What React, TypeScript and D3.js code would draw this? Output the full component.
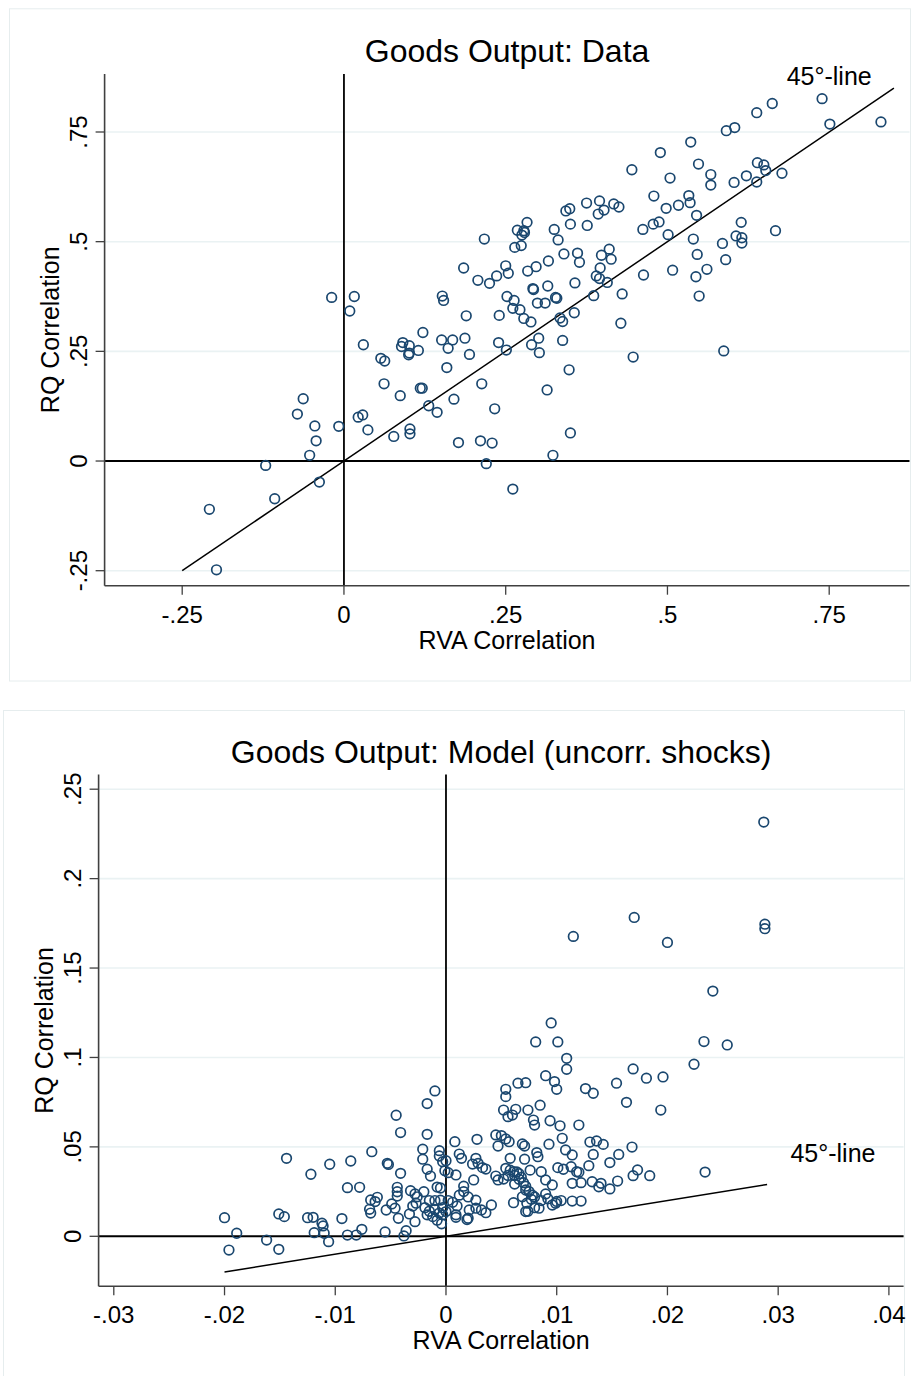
import React from 'react';
import * as d3 from 'd3';

// Stata s2color look
const NAVY = '#1a476f';
const GRID = '#eaf2f3';
const AXIS = '#404040';
const FONT = '"Liberation Sans", Arial, Helvetica, sans-serif';

// ---- panel 1: data ----
const dataTicksX = [-0.25, 0, 0.25, 0.5, 0.75];
const dataTickLabelsX = ['-.25', '0', '.25', '.5', '.75'];
const dataTicksY = [-0.25, 0, 0.25, 0.5, 0.75];
const dataTickLabelsY = ['-.25', '0', '.25', '.5', '.75'];
const dataLine = [-0.25, 0.85];
const dataPoints: [number, number][] = [
  [-0.208, -0.110], [-0.197, -0.248], [-0.121, -0.010], [-0.107, -0.086], [-0.038, -0.048],
  [-0.072, 0.107], [-0.063, 0.142], [-0.045, 0.080], [-0.043, 0.046], [-0.053, 0.013],
  [-0.008, 0.079], [-0.019, 0.373], [0.016, 0.375], [0.009, 0.342], [0.022, 0.100],
  [0.029, 0.105], [0.037, 0.071], [0.030, 0.265], [0.057, 0.234], [0.063, 0.228],
  [0.062, 0.176], [0.077, 0.056], [0.087, 0.149], [0.091, 0.270], [0.089, 0.261],
  [0.101, 0.263], [0.101, 0.246], [0.100, 0.242], [0.102, 0.073], [0.102, 0.062],
  [0.115, 0.252], [0.122, 0.293], [0.118, 0.166], [0.121, 0.166], [0.131, 0.126],
  [0.144, 0.111], [0.152, 0.376], [0.154, 0.366], [0.151, 0.276], [0.161, 0.257],
  [0.159, 0.213], [0.168, 0.276], [0.170, 0.141], [0.177, 0.042], [0.185, 0.440],
  [0.189, 0.331], [0.187, 0.280], [0.194, 0.243], [0.207, 0.412], [0.213, 0.176],
  [0.211, 0.046], [0.217, 0.506], [0.220, -0.006], [0.225, 0.405], [0.229, 0.041],
  [0.233, 0.119], [0.236, 0.422], [0.239, 0.270], [0.240, 0.332], [0.250, 0.445],
  [0.254, 0.428], [0.252, 0.375], [0.251, 0.253], [0.261, -0.064], [0.264, 0.487],
  [0.263, 0.366], [0.261, 0.348], [0.268, 0.526], [0.274, 0.491], [0.272, 0.345],
  [0.278, 0.325], [0.278, 0.525], [0.275, 0.515], [0.279, 0.521], [0.283, 0.544],
  [0.284, 0.433], [0.289, 0.317], [0.292, 0.393], [0.293, 0.391], [0.290, 0.265],
  [0.297, 0.443], [0.301, 0.280], [0.299, 0.360], [0.302, 0.247], [0.311, 0.360],
  [0.315, 0.399], [0.316, 0.456], [0.314, 0.162], [0.323, 0.013], [0.325, 0.528],
  [0.327, 0.373], [0.329, 0.371], [0.331, 0.504], [0.334, 0.326], [0.338, 0.318],
  [0.338, 0.275], [0.340, 0.472], [0.343, 0.570], [0.349, 0.575], [0.350, 0.540],
  [0.348, 0.208], [0.350, 0.064], [0.357, 0.406], [0.356, 0.338], [0.361, 0.474],
  [0.364, 0.453], [0.375, 0.588], [0.376, 0.537], [0.386, 0.377], [0.390, 0.422],
  [0.395, 0.416], [0.395, 0.593], [0.393, 0.563], [0.396, 0.440], [0.398, 0.469],
  [0.402, 0.572], [0.407, 0.407], [0.410, 0.483], [0.413, 0.460], [0.417, 0.586],
  [0.425, 0.579], [0.428, 0.314], [0.430, 0.381], [0.445, 0.664], [0.447, 0.237],
  [0.462, 0.528], [0.463, 0.424], [0.478, 0.540], [0.479, 0.604], [0.487, 0.545],
  [0.489, 0.703], [0.498, 0.576], [0.501, 0.516], [0.504, 0.645], [0.508, 0.435],
  [0.517, 0.583], [0.533, 0.605], [0.535, 0.589], [0.536, 0.727], [0.540, 0.506],
  [0.545, 0.560], [0.546, 0.471], [0.544, 0.420], [0.548, 0.677], [0.549, 0.376],
  [0.561, 0.437], [0.567, 0.653], [0.567, 0.629], [0.585, 0.496], [0.587, 0.251],
  [0.591, 0.753], [0.590, 0.459], [0.604, 0.760], [0.603, 0.635], [0.606, 0.513],
  [0.614, 0.544], [0.615, 0.509], [0.615, 0.497], [0.622, 0.650], [0.638, 0.794],
  [0.638, 0.636], [0.639, 0.680], [0.649, 0.675], [0.652, 0.662], [0.662, 0.815],
  [0.667, 0.525], [0.677, 0.656], [0.739, 0.826], [0.751, 0.768], [0.830, 0.773],
];

// ---- panel 2: model ----
const modelTicksX = [-0.03, -0.02, -0.01, 0, 0.01, 0.02, 0.03, 0.04];
const modelTickLabelsX = ['-.03', '-.02', '-.01', '0', '.01', '.02', '.03', '.04'];
const modelTicksY = [0, 0.05, 0.1, 0.15, 0.2, 0.25];
const modelTickLabelsY = ['0', '.05', '.1', '.15', '.2', '.25'];
const modelLine = [-0.02, 0.029];
const modelPoints: [number, number][] = [
  [-0.0200, 0.0104], [-0.0196, -0.0077], [-0.0189, 0.0017], [-0.0162, -0.0021], [-0.0151, -0.0073],
  [-0.0151, 0.0125], [-0.0146, 0.0110], [-0.0144, 0.0436], [-0.0125, 0.0104], [-0.0120, 0.0106],
  [-0.0122, 0.0347], [-0.0112, 0.0073], [-0.0111, 0.0058], [-0.0119, 0.0020], [-0.0110, 0.0017],
  [-0.0106, -0.0030], [-0.0105, 0.0403], [-0.0094, 0.0099], [-0.0089, 0.0007], [-0.0081, 0.0007],
  [-0.0089, 0.0272], [-0.0078, 0.0274], [-0.0086, 0.0421], [-0.0076, 0.0039], [-0.0068, 0.0203],
  [-0.0069, 0.0151], [-0.0062, 0.0218], [-0.0064, 0.0194], [-0.0067, 0.0473], [-0.0068, 0.0130],
  [-0.0055, 0.0024], [-0.0054, 0.0147], [-0.0053, 0.0408], [-0.0052, 0.0402], [-0.0049, 0.0181],
  [-0.0046, 0.0157], [-0.0045, 0.0677], [-0.0044, 0.0274], [-0.0044, 0.0249], [-0.0044, 0.0225],
  [-0.0043, 0.0101], [-0.0041, 0.0580], [-0.0041, 0.0352], [-0.0038, 0.0002], [-0.0036, 0.0031],
  [-0.0033, 0.0125], [-0.0032, 0.0255], [-0.0030, 0.0169], [-0.0028, 0.0237], [-0.0028, 0.0082],
  [-0.0027, 0.0185], [-0.0026, 0.0221], [-0.0021, 0.0487], [-0.0021, 0.0431], [-0.0020, 0.0249],
  [-0.0017, 0.0742], [-0.0017, 0.0570], [-0.0017, 0.0375], [-0.0014, 0.0337], [-0.0010, 0.0813],
  [-0.0006, 0.0479], [-0.0006, 0.0449], [-0.0003, 0.0417], [-0.0001, 0.0367], [-0.0019, 0.0160],
  [-0.0017, 0.0120], [-0.0015, 0.0140], [-0.0012, 0.0110], [-0.0010, 0.0150], [-0.0008, 0.0090],
  [-0.0006, 0.0130], [-0.0004, 0.0070], [-0.0003, 0.0160], [-0.0015, 0.0200], [-0.0010, 0.0200],
  [-0.0003, 0.0120], [-0.0005, 0.0270], [-0.0008, 0.0275], [-0.0005, 0.0202],
  [0.0000, 0.0423], [0.0002, 0.0356], [0.0009, 0.0343], [0.0008, 0.0529], [0.0012, 0.0460],
  [0.0014, 0.0436], [0.0028, 0.0542], [0.0027, 0.0436], [0.0024, 0.0404], [0.0029, 0.0408],
  [0.0033, 0.0384], [0.0036, 0.0376], [0.0025, 0.0315], [0.0045, 0.0337], [0.0047, 0.0315],
  [0.0045, 0.0567], [0.0050, 0.0563], [0.0054, 0.0544], [0.0047, 0.0505], [0.0057, 0.0529],
  [0.0069, 0.0516], [0.0071, 0.0505], [0.0058, 0.0436], [0.0071, 0.0431], [0.0082, 0.0468],
  [0.0083, 0.0445], [0.0093, 0.0515], [0.0105, 0.0548], [0.0108, 0.0483], [0.0114, 0.0455],
  [0.0130, 0.0527], [0.0136, 0.0533], [0.0142, 0.0514], [0.0168, 0.0499], [0.0156, 0.0458],
  [0.0133, 0.0458], [0.0148, 0.0412],
  [0.0052, 0.0706], [0.0063, 0.0710], [0.0056, 0.0669], [0.0060, 0.0678], [0.0074, 0.0706],
  [0.0085, 0.0733], [0.0079, 0.0650], [0.0080, 0.0622], [0.0094, 0.0646], [0.0103, 0.0618],
  [0.0120, 0.0622], [0.0054, 0.0822], [0.0054, 0.0781], [0.0065, 0.0856], [0.0072, 0.0859],
  [0.0090, 0.0898], [0.0098, 0.0865], [0.0100, 0.0822], [0.0126, 0.0826], [0.0133, 0.0800],
  [0.0154, 0.0856], [0.0163, 0.0749], [0.0194, 0.0706], [0.0181, 0.0884], [0.0196, 0.0891],
  [0.0169, 0.0936], [0.0224, 0.0962], [0.0109, 0.0995], [0.0109, 0.0934], [0.0081, 0.1087],
  [0.0101, 0.1087], [0.0095, 0.1193], [0.0233, 0.1089], [0.0254, 0.1070], [0.0241, 0.1371],
  [0.0115, 0.1677], [0.0170, 0.1783], [0.0200, 0.1643], [0.0288, 0.1745], [0.0288, 0.1720],
  [0.0287, 0.2316],
  [0.0054, 0.0380], [0.0061, 0.0361], [0.0066, 0.0319], [0.0062, 0.0292], [0.0072, 0.0259],
  [0.0069, 0.0221], [0.0077, 0.0207], [0.0073, 0.0185], [0.0072, 0.0138], [0.0084, 0.0157],
  [0.0086, 0.0361], [0.0090, 0.0315], [0.0096, 0.0287], [0.0090, 0.0237], [0.0099, 0.0185],
  [0.0096, 0.0175], [0.0061, 0.0188], [0.0101, 0.0384], [0.0106, 0.0375], [0.0113, 0.0389],
  [0.0118, 0.0361], [0.0120, 0.0358], [0.0114, 0.0296], [0.0122, 0.0300], [0.0132, 0.0305],
  [0.0138, 0.0277], [0.0140, 0.0296], [0.0148, 0.0265], [0.0155, 0.0309], [0.0169, 0.0339],
  [0.0173, 0.0371], [0.0184, 0.0339], [0.0114, 0.0197], [0.0122, 0.0197], [0.0234, 0.0359],
  [0.0129, 0.0395],
  [0.0002, 0.0200], [0.0006, 0.0190], [0.0010, 0.0170], [0.0012, 0.0230], [0.0016, 0.0250],
  [0.0009, 0.0120], [0.0000, 0.0138], [0.0009, 0.0106], [0.0020, 0.0101], [0.0021, 0.0147],
  [0.0027, 0.0157], [0.0032, 0.0147], [0.0036, 0.0132], [0.0041, 0.0175], [0.0020, 0.0220],
  [0.0016, 0.0280], [0.0019, 0.0094], [0.0027, 0.0202],
  [0.0058, 0.0370], [0.0062, 0.0340], [0.0064, 0.0360], [0.0066, 0.0350], [0.0068, 0.0330],
  [0.0070, 0.0300], [0.0072, 0.0280], [0.0075, 0.0250], [0.0078, 0.0230], [0.0080, 0.0220],
  [0.0052, 0.0320], [0.0056, 0.0340], [0.0076, 0.0370], [0.0074, 0.0140], [0.0080, 0.0160],
  [0.0086, 0.0200], [0.0092, 0.0210], [0.0100, 0.0195], [0.0104, 0.0200],
];

type PanelProps = {
  frame: [number, number, number, number];
  plot: { left: number; right: number; top: number; bottom: number };
  xCal: [number, number, number, number];
  yCal: [number, number, number, number];
  ticksX: number[];
  labelsX: string[];
  ticksY: number[];
  labelsY: string[];
  points: [number, number][];
  line: number[];
  title: string;
  lineLabelAt: [number, number];
};

function Panel(p: PanelProps) {
  const { plot } = p;
  const x = d3.scaleLinear().domain([p.xCal[0], p.xCal[1]]).range([p.xCal[2], p.xCal[3]]);
  const y = d3.scaleLinear().domain([p.yCal[0], p.yCal[1]]).range([p.yCal[2], p.yCal[3]]);
  const diag = d3.line<number>().x(d => x(d)).y(d => y(d));
  const [fx0, fy0, fx1, fy1] = p.frame;
  const midX = (plot.left + plot.right) / 2;
  const midY = (plot.top + plot.bottom) / 2;
  return (
    <g fontFamily={FONT}>
      <rect x={fx0} y={fy0} width={fx1 - fx0} height={fy1 - fy0} fill="#fff" stroke="#e6edee" strokeWidth={1} />
      {/* grid */}
      {p.ticksY.filter(t => t !== 0).map(t => (
        <line key={'g' + t} x1={plot.left} x2={plot.right} y1={y(t)} y2={y(t)} stroke={GRID} strokeWidth={1.6} />
      ))}
      {/* zero lines */}
      <line x1={plot.left} x2={plot.right} y1={y(0)} y2={y(0)} stroke="#000" strokeWidth={2} />
      <line x1={x(0)} x2={x(0)} y1={plot.top} y2={plot.bottom} stroke="#000" strokeWidth={1.8} />
      {/* 45 degree line */}
      <path d={diag(p.line) || ''} fill="none" stroke="#000" strokeWidth={1.5} />
      <text x={p.lineLabelAt[0]} y={p.lineLabelAt[1]} fontSize={25} fill="#000">45°-line</text>
      {/* markers */}
      {p.points.map((d, i) => (
        <circle key={i} cx={x(d[0])} cy={y(d[1])} r={4.8} fill="none" stroke={NAVY} strokeWidth={1.7} />
      ))}
      {/* axes */}
      <line x1={plot.left} x2={plot.left} y1={plot.top} y2={plot.bottom} stroke={AXIS} strokeWidth={1.6} />
      <line x1={plot.left} x2={plot.right} y1={plot.bottom} y2={plot.bottom} stroke={AXIS} strokeWidth={1.6} />
      {p.ticksX.map((t, i) => (
        <g key={'x' + t}>
          <line x1={x(t)} x2={x(t)} y1={plot.bottom} y2={plot.bottom + 9} stroke={AXIS} strokeWidth={1.3} />
          <text x={x(t)} y={plot.bottom + 37} textAnchor="middle" fontSize={24} fill="#000">{p.labelsX[i]}</text>
        </g>
      ))}
      {p.ticksY.map((t, i) => (
        <g key={'y' + t}>
          <line x1={plot.left - 9} x2={plot.left} y1={y(t)} y2={y(t)} stroke={AXIS} strokeWidth={1.3} />
          <text transform={`translate(${plot.left - 18},${y(t)}) rotate(-90)`} textAnchor="middle" fontSize={24} fill="#000">{p.labelsY[i]}</text>
        </g>
      ))}
      <text x={midX} y={plot.bottom + 63} textAnchor="middle" fontSize={25} fill="#000">RVA Correlation</text>
      <text transform={`translate(${plot.left - 46},${midY}) rotate(-90)`} textAnchor="middle" fontSize={25} fill="#000">RQ Correlation</text>
      <text x={midX} y={plot.top - 12} textAnchor="middle" fontSize={32} fill="#000">{p.title}</text>
    </g>
  );
}

export default function App() {
  return (
    <svg width={920} height={1376} style={{ position: 'absolute', left: 0, top: 0, background: '#fff' }}>
      <rect x={0} y={0} width={920} height={1376} fill="#fff" />
      <Panel
        frame={[9.5, 8.8, 910.5, 681]}
        plot={{ left: 104.6, right: 909.5, top: 73.9, bottom: 585.7 }}
        xCal={[-0.25, 0.75, 182.2, 829.2]}
        yCal={[-0.25, 0.75, 570.7, 132]}
        ticksX={dataTicksX}
        labelsX={dataTickLabelsX}
        ticksY={dataTicksY}
        labelsY={dataTickLabelsY}
        points={dataPoints}
        line={dataLine}
        title="Goods Output: Data"
        lineLabelAt={[786.7, 85]}
      />
      <Panel
        frame={[3.5, 710.5, 904.5, 1383]}
        plot={{ left: 98.6, right: 903.6, top: 774.6, bottom: 1286.3 }}
        xCal={[-0.03, 0.04, 113.8, 888.9]}
        yCal={[0, 0.25, 1236.3, 789.2]}
        ticksX={modelTicksX}
        labelsX={modelTickLabelsX}
        ticksY={modelTicksY}
        labelsY={modelTickLabelsY}
        points={modelPoints}
        line={modelLine}
        title="Goods Output: Model (uncorr. shocks)"
        lineLabelAt={[790.4, 1162]}
      />
    </svg>
  );
}
